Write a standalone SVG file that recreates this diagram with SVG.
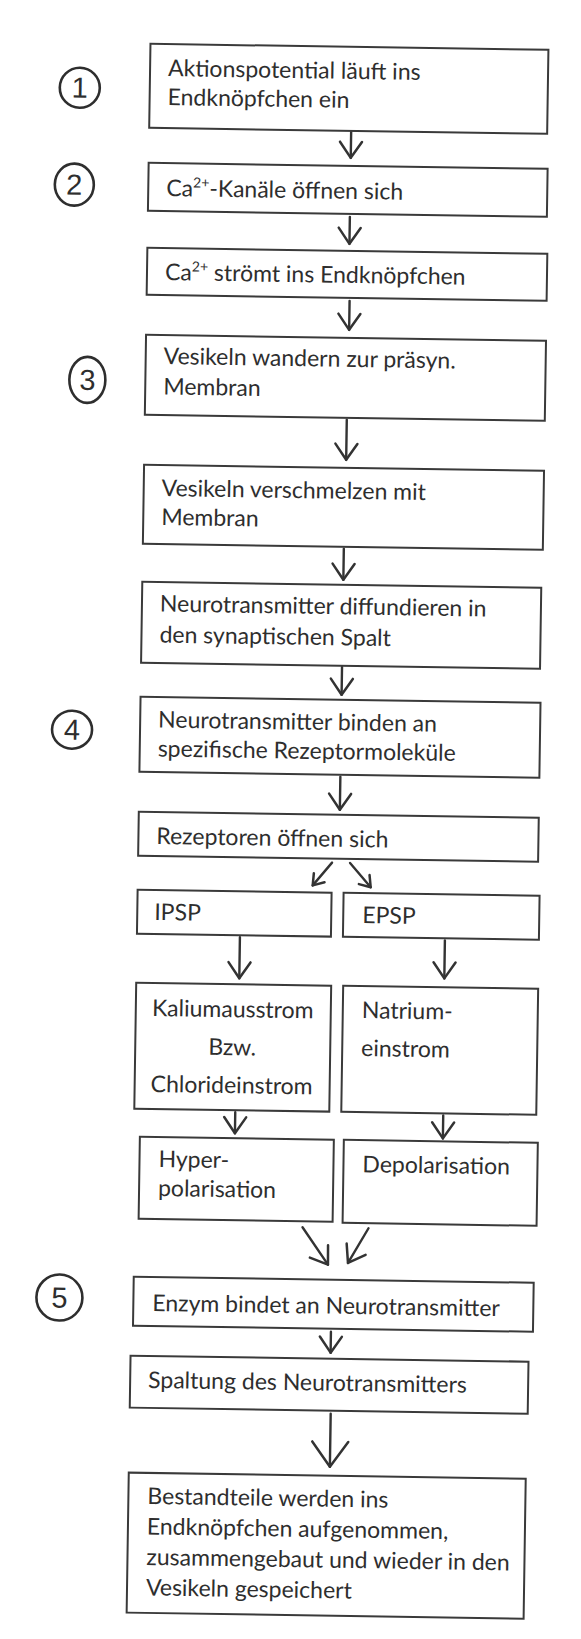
<svg xmlns="http://www.w3.org/2000/svg" width="581" height="1639" viewBox="0 0 581 1639">
<style>
.box{fill:#fff;stroke:#3a3a3a;stroke-width:2}
.t{font-family:Lato,"Liberation Sans",sans-serif;font-size:23px;fill:#2e2e2e}
.tc{text-anchor:middle}
.sup{font-size:14px}
.c{fill:none;stroke:#2e2e2e;stroke-width:2.6}
.nt{font-family:"Liberation Sans",sans-serif;font-size:29px;fill:#2e2e2e;text-anchor:middle}
.ln{fill:none;stroke:#333;stroke-width:2.4;stroke-linecap:round}
</style>
<defs>
<marker id="ah" markerUnits="userSpaceOnUse" viewBox="-20 -15 24 30" markerWidth="24" markerHeight="30" refX="0" refY="0" orient="auto"><path d="M-16,-11 L0,0 L-16,11" fill="none" stroke="#333" stroke-width="2.5" stroke-linecap="round" stroke-linejoin="round"/></marker>
<marker id="ahS" markerUnits="userSpaceOnUse" viewBox="-14 -10 18 20" markerWidth="18" markerHeight="20" refX="0" refY="0" orient="auto"><path d="M-10,-7 L0,0 L-10,7" fill="none" stroke="#333" stroke-width="2.5" stroke-linecap="round" stroke-linejoin="round"/></marker>
<marker id="ahL" markerUnits="userSpaceOnUse" viewBox="-30 -22 34 44" markerWidth="34" markerHeight="44" refX="0" refY="0" orient="auto"><path d="M-25,-18 L0,0 L-25,18" fill="none" stroke="#333" stroke-width="2.5" stroke-linecap="round" stroke-linejoin="round"/></marker>
</defs>
<rect width="581" height="1639" fill="#fff"/>
<g transform="rotate(0.87 290 800)">
<g id="connectors">
<path class="ln" d="M341,131 V157" marker-end="url(#ah)"/>
<path class="ln" d="M341,216 V243" marker-end="url(#ah)"/>
<path class="ln" d="M342,300 V329" marker-end="url(#ah)"/>
<path class="ln" d="M341,419 V459" marker-end="url(#ah)"/>
<path class="ln" d="M340,548 V579" marker-end="url(#ah)"/>
<path class="ln" d="M340,666 V694" marker-end="url(#ah)"/>
<path class="ln" d="M340,776 V809" marker-end="url(#ah)"/>
<path class="ln" d="M333,862 L314,885" marker-end="url(#ahS)"/>
<path class="ln" d="M351,862 L372,886" marker-end="url(#ahS)"/>
<path class="ln" d="M242,938 V979" marker-end="url(#ah)"/>
<path class="ln" d="M447,938 V976" marker-end="url(#ah)"/>
<path class="ln" d="M240,1113 V1134" marker-end="url(#ah)"/>
<path class="ln" d="M448,1113 V1136" marker-end="url(#ah)"/>
<path class="ln" d="M309,1227 L335,1264" marker-end="url(#ah)"/>
<path class="ln" d="M375,1227 L355,1262" marker-end="url(#ah)"/>
<path class="ln" d="M339,1331 V1352" marker-end="url(#ah)"/>
<path class="ln" d="M340,1413 V1466" marker-end="url(#ahL)"/>
</g>
<g id="num1"><ellipse class="c" cx="69" cy="91" rx="20" ry="20"/><text class="nt" x="69" y="101">1</text></g>
<g id="num2"><ellipse class="c" cx="65" cy="188" rx="19.5" ry="21"/><text class="nt" x="65" y="198">2</text></g>
<g id="num3"><ellipse class="c" cx="81" cy="383" rx="18" ry="23"/><text class="nt" x="81" y="393">3</text></g>
<g id="num4"><ellipse class="c" cx="71" cy="733" rx="20" ry="19"/><text class="nt" x="71" y="743">4</text></g>
<g id="num5"><ellipse class="c" cx="67" cy="1301" rx="23" ry="23"/><text class="nt" x="67" y="1311">5</text></g>
<g id="n1"><rect class="box" x="139" y="46" width="398" height="84"/><text class="t" x="157" y="78">Aktionspotential läuft ins</text><text class="t" x="157" y="107">Endknöpfchen ein</text></g>
<g id="n2"><rect class="box" x="139" y="165" width="399" height="48"/><text class="t" x="157" y="198">Ca<tspan class="sup" dy="-9">2+</tspan><tspan dy="9">-Kanäle öffnen sich</tspan></text></g>
<g id="n3"><rect class="box" x="139" y="250" width="400" height="47"/><text class="t" x="157" y="282">Ca<tspan class="sup" dy="-9">2+</tspan><tspan dy="9"> strömt ins Endknöpfchen</tspan></text></g>
<g id="n4"><rect class="box" x="139" y="337" width="400" height="80"/><text class="t" x="157" y="366">Vesikeln wandern zur präsyn.</text><text class="t" x="157" y="396.5">Membran</text></g>
<g id="n5"><rect class="box" x="139" y="467" width="400" height="79"/><text class="t" x="157" y="498">Vesikeln verschmelzen mit</text><text class="t" x="157" y="527">Membran</text></g>
<g id="n6"><rect class="box" x="139" y="584" width="399" height="81"/><text class="t" x="157" y="613.5">Neurotransmitter diffundieren in</text><text class="t" x="157" y="644.5">den synaptischen Spalt</text></g>
<g id="n7"><rect class="box" x="139" y="699" width="400" height="75"/><text class="t" x="157" y="729.5">Neurotransmitter binden an</text><text class="t" x="157" y="758.5">spezifische Rezeptormoleküle</text></g>
<g id="n8"><rect class="box" x="139" y="814" width="400" height="44"/><text class="t" x="157" y="846">Rezeptoren öffnen sich</text></g>
<g id="ipsp"><rect class="box" x="139" y="892" width="194" height="44"/><text class="t" x="156" y="922">IPSP</text></g>
<g id="epsp"><rect class="box" x="345" y="892" width="196" height="44"/><text class="t" x="364" y="922">EPSP</text></g>
<g id="kalium"><rect class="box" x="139" y="985" width="195" height="126"/><text class="t tc" x="236" y="1018">Kaliumausstrom</text><text class="t tc" x="236" y="1056">Bzw.</text><text class="t tc" x="236" y="1094">Chlorideinstrom</text></g>
<g id="natrium"><rect class="box" x="346" y="985" width="195" height="126"/><text class="t" x="365" y="1017">Natrium-</text><text class="t" x="365" y="1055">einstrom</text></g>
<g id="hyper"><rect class="box" x="145" y="1139" width="194" height="82"/><text class="t" x="164" y="1169">Hyper-</text><text class="t" x="164" y="1198">polarisation</text></g>
<g id="depol"><rect class="box" x="349" y="1139" width="194" height="83"/><text class="t" x="368" y="1171">Depolarisation</text></g>
<g id="enzym"><rect class="box" x="141" y="1279" width="400" height="49"/><text class="t" x="160" y="1313">Enzym bindet an Neurotransmitter</text></g>
<g id="spaltung"><rect class="box" x="139" y="1358" width="398" height="52"/><text class="t" x="157" y="1390">Spaltung des Neurotransmitters</text></g>
<g id="bestandteile"><rect class="box" x="139" y="1475" width="397" height="140"/><text class="t" x="158" y="1506">Bestandteile werden ins</text><text class="t" x="158" y="1536.5">Endknöpfchen aufgenommen,</text><text class="t" x="158" y="1567">zusammengebaut und wieder in den</text><text class="t" x="158" y="1597.5">Vesikeln gespeichert</text></g>
</g>
</svg>
